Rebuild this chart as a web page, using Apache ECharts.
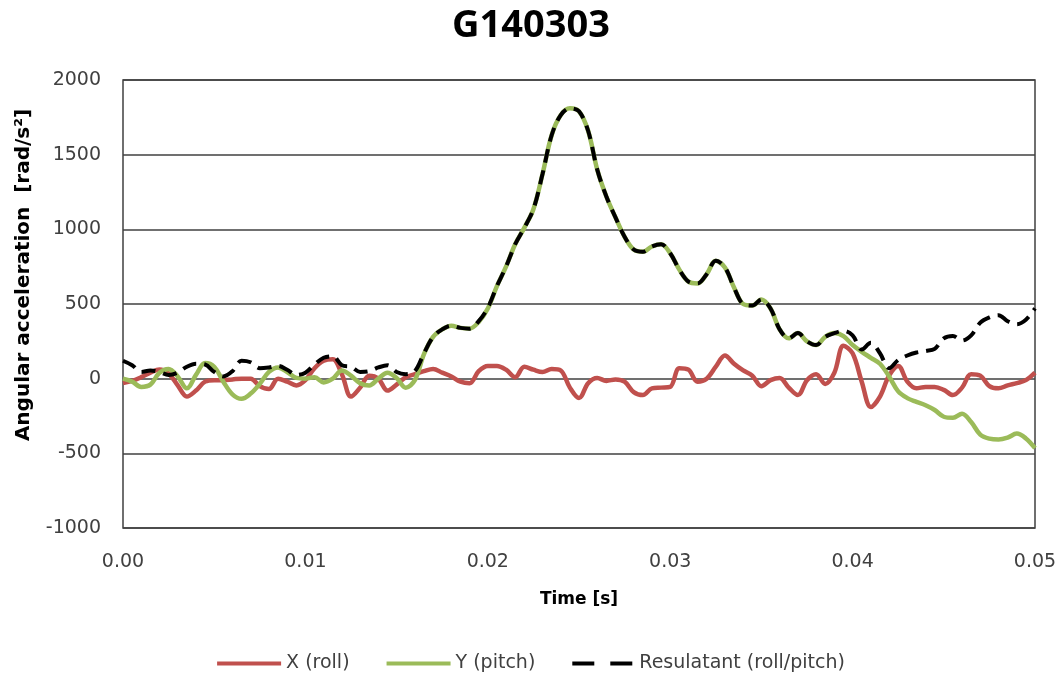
<!DOCTYPE html>
<html>
<head>
<meta charset="utf-8">
<script src="https://cdn.jsdelivr.net/npm/echarts@6/dist/echarts.min.js"></script>
<style>
  html, body { margin: 0; padding: 0; background: #ffffff; }
  #chart { width: 1062px; height: 679px; }
</style>
</head>
<body>
<div id="chart"></div>
<script>
// Sampling interval of the recorded signals [s]
const timeStep = 0.0005;

// Angular acceleration about X (roll) [rad/s^2]
const rollX = [
  -30, -15, 10, 40, 62, 35, -45, -120, -80, -20,
  -10, -10, -5, 0, 0, -50, -70, 0, -20, -45,
  -10, 70, 120, 130, 30, -120, -60, 20, 0, -80,
  -40, 10, 30, 50, 65, 40, 15, -20, -30, 50,
  85, 85, 60, 10, 80, 60, 45, 65, 55, -60,
  -130, -30, 5, -15, -5, -20, -90, -110, -65, -60,
  -55, 70, 60, -20, 0, 80, 155, 100, 55, 20,
  -50, -10, 5, -60, -110, -10, 30, -35, 40, 220,
  170, -20, -190, -120, 20, 85, -20, -65, -55, -55,
  -75, -110, -60, 30, 20, -50, -65, -45, -30, -10,
  40
];

// Angular acceleration about Y (pitch) [rad/s^2]
const pitchY = [
  0, -20, -55, -40, 40, 65, 15, -65, 25, 105,
  80, -20, -105, -135, -100, -35, 45, 75, 45, 5,
  0, 10, -25, 0, 55, 20, -30, -45, 0, 40,
  5, -60, -10, 165, 280, 330, 355, 340, 335, 380,
  470, 620, 750, 900, 1010, 1135, 1370, 1630, 1765, 1810,
  1790, 1660, 1400, 1220, 1080, 950, 865, 850, 885, 900,
  840, 730, 650, 638, 700, 790, 745, 610, 500, 490,
  530, 470, 330, 270, 305, 250, 225, 280, 305, 285,
  225, 180, 140, 100, 15, -85, -130, -155, -178, -210,
  -255, -262, -235, -290, -375, -402, -408, -395, -368, -400,
  -465
];

// Resultant (roll/pitch) angular acceleration [rad/s^2]
const resultant = [
  120, 90, 45, 55, 45, 25, 40, 80, 100, 95,
  45, 15, 50, 120, 110, 70, 75, 85, 60, 25,
  40, 95, 140, 150, 90, 80, 45, 50, 75, 90,
  45, 30, 50, 170, 280, 330, 355, 340, 335, 385,
  475, 620, 750, 900, 1010, 1135, 1370, 1630, 1765, 1810,
  1790, 1660, 1400, 1220, 1080, 950, 865, 850, 885, 900,
  840, 730, 650, 638, 700, 790, 745, 610, 500, 490,
  530, 470, 330, 270, 305, 250, 225, 280, 305, 320,
  290, 195, 240, 170, 70, 125, 155, 175, 185, 200,
  270, 285, 255, 290, 375, 410, 425, 385, 365, 395,
  470
];

const seriesNames = ['X (roll)', 'Y (pitch)', 'Resulatant (roll/pitch)'];
const seriesColors = ['#C0504D', '#9BBB59', '#000000'];

// Legend keys: a solid bar for roll/pitch, two dashes for the resultant
const solidKey = 'path://M0,0h64v4h-64z';
const dashedKey = 'path://M0,0h22v4h-22zM38,0h22v4h-22z';

// Pair each sample with its time stamp
function toPoints(values) {
  return values.map((v, i) => [+(i * timeStep).toFixed(4), v]);
}

const FONT = '"DejaVu Sans", "Open Sans", sans-serif';
const TITLE_FONT = '"Open Sans", "DejaVu Sans", sans-serif';
const chart = echarts.init(document.getElementById('chart'), null, { renderer: 'canvas' });

chart.setOption({
  animation: false,
  backgroundColor: '#ffffff',
  title: {
    text: 'G140303',
    left: 'center',
    top: 2,
    textStyle: { fontFamily: TITLE_FONT, fontSize: 38, fontWeight: 'bold', color: '#000000' }
  },
  legend: {
    bottom: 1,
    left: 'center',
    itemGap: 37,
    itemWidth: 64,
    itemHeight: 4,
    textStyle: { fontFamily: FONT, fontSize: 19, color: '#404040' },
    data: [
      { name: seriesNames[0], icon: solidKey, itemStyle: { color: seriesColors[0] } },
      { name: seriesNames[1], icon: solidKey, itemStyle: { color: seriesColors[1] } },
      { name: seriesNames[2], icon: dashedKey, itemStyle: { color: seriesColors[2] } }
    ]
  },
  grid: {
    left: 123,
    right: 27,
    top: 80,
    bottom: 151,
    show: true,
    borderColor: '#404040',
    borderWidth: 1.5,
    backgroundColor: 'transparent'
  },
  xAxis: {
    type: 'value',
    min: 0,
    max: 0.05,
    interval: 0.01,
    name: 'Time [s]',
    nameLocation: 'middle',
    nameGap: 63,
    nameTextStyle: { fontFamily: FONT, fontSize: 17, fontWeight: 'bold', color: '#000000' },
    axisLine: { show: false },
    axisTick: { show: false },
    splitLine: { show: false },
    axisLabel: {
      margin: 25,
      fontFamily: FONT,
      fontSize: 19,
      color: '#404040',
      formatter: v => v.toFixed(2)
    }
  },
  yAxis: {
    type: 'value',
    min: -1000,
    max: 2000,
    interval: 500,
    axisLine: { show: false },
    axisTick: { show: false },
    splitLine: { show: true, lineStyle: { color: '#404040', width: 1.5 } },
    axisLabel: {
      margin: 22,
      fontFamily: FONT,
      fontSize: 19,
      color: '#404040',
      formatter: v => String(v)
    }
  },
  graphic: [{
    type: 'text',
    x: 24,
    y: 275,
    rotation: Math.PI / 2,
    style: {
      text: 'Angular acceleration  [rad/s²]',
      font: 'bold 20px ' + FONT,
      fill: '#000000',
      textAlign: 'center',
      textVerticalAlign: 'middle',
      align: 'center',
      verticalAlign: 'middle'
    }
  }],
  series: [
    {
      name: seriesNames[0], type: 'line', data: toPoints(rollX),
      smooth: 0.35, symbol: 'none', z: 2,
      lineStyle: { color: seriesColors[0], width: 4.5 }, itemStyle: { color: seriesColors[0] }
    },
    {
      name: seriesNames[1], type: 'line', data: toPoints(pitchY),
      smooth: 0.35, symbol: 'none', z: 3,
      lineStyle: { color: seriesColors[1], width: 4.5 }, itemStyle: { color: seriesColors[1] }
    },
    {
      name: seriesNames[2], type: 'line', data: toPoints(resultant),
      smooth: 0.35, symbol: 'none', z: 4,
      lineStyle: { color: seriesColors[2], width: 4, type: [14, 8] }, itemStyle: { color: seriesColors[2] }
    }
  ]
});
</script>
</body>
</html>
